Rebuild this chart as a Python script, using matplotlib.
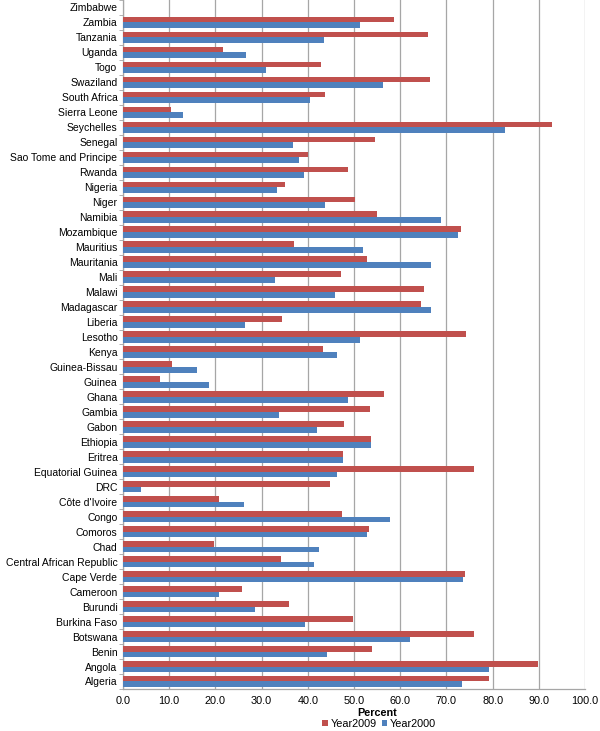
import matplotlib
matplotlib.use("Agg")
import matplotlib.pyplot as plt
import numpy as np

plt.rcParams['font.family'] = ['Liberation Sans', 'DejaVu Sans']

countries = ["Algeria", "Angola", "Benin", "Botswana", "Burkina Faso", "Burundi",
             "Cameroon", "Cape Verde", "Central African Republic", "Chad", "Comoros",
             "Congo", "Côte d'Ivoire", "DRC", "Equatorial Guinea", "Eritrea", "Ethiopia",
             "Gabon", "Gambia", "Ghana", "Guinea", "Guinea-Bissau", "Kenya", "Lesotho",
             "Liberia", "Madagascar", "Malawi", "Mali", "Mauritania", "Mauritius",
             "Mozambique", "Namibia", "Niger", "Nigeria", "Rwanda", "Sao Tome and Principe",
             "Senegal", "Seychelles", "Sierra Leone", "South Africa", "Swaziland", "Togo",
             "Uganda", "Tanzania", "Zambia", "Zimbabwe"]

year2009 = [79.3, 89.9, 53.8, 76.0, 49.7, 36.0,
            25.8, 74.1, 34.1, 19.6, 53.2,
            47.5, 20.8, 44.7, 76.0, 47.7, 53.6,
            47.9, 53.4, 56.6, 8.1, 10.5, 43.3, 74.3,
            34.5, 64.5, 65.2, 47.2, 52.8, 37.1,
            73.1, 55.0, 50.3, 35.0, 48.6, 40.0,
            54.5, 92.8, 10.4, 43.8, 66.5, 42.9,
            21.7, 66.1, 58.6, np.nan]

year2000 = [73.3, 79.2, 44.2, 62.2, 39.5, 28.5,
            20.8, 73.6, 41.4, 42.4, 52.8,
            57.7, 26.2, 4.0, 46.3, 47.6, 53.6,
            41.9, 33.7, 48.7, 18.6, 16.1, 46.3, 51.2,
            26.3, 66.6, 45.8, 32.9, 66.6, 52.0,
            72.5, 68.9, 43.8, 33.4, 39.1, 38.0,
            36.7, 82.7, 13.0, 40.4, 56.3, 31.0,
            26.7, 43.4, 51.3, np.nan]

xticks = np.arange(0, 101, 10)

red = "#C0504D"
blue = "#4F81BD"
grid = "#A6A6A6"

fig = plt.figure(figsize=(6.0, 7.31), dpi=100)
ax = fig.add_axes([0.205, 0.0575, 0.770, 0.9425])

y = np.arange(len(countries))
h = 0.38
ax.barh(y + h / 2, year2009, height=h, color=red, label="Year2009", zorder=3)
ax.barh(y - h / 2, year2000, height=h, color=blue, label="Year2000", zorder=3)

ax.set_xlim(0, 100)
ax.set_ylim(-0.5, len(countries) - 0.5)
ax.set_xticks(xticks)
ax.set_xticklabels([f"{v:.1f}" for v in xticks], fontsize=7.8)
ax.set_yticks(y)
ax.set_yticklabels(countries, fontsize=7.5)
ax.set_yticks(np.arange(-0.5, len(countries), 1), minor=True)
ax.tick_params(axis='y', which='major', length=0, pad=4)
ax.tick_params(axis='y', which='minor', length=3, color=grid)
ax.tick_params(axis='x', length=0, pad=5)
ax.xaxis.grid(True, color=grid, linewidth=0.9, zorder=0)
for s in ['top', 'right']:
    ax.spines[s].set_visible(False)
for s in ['left', 'bottom']:
    ax.spines[s].set_color(grid)
    ax.spines[s].set_linewidth(0.9)

fig.text(0.629, 1 - 713 / 731, "Percent", fontsize=7.8, fontweight='bold',
         ha='center', va='center')
leg = fig.legend(loc='center', bbox_to_anchor=(0.632, 1 - 724 / 731), ncol=2, frameon=False,
                 fontsize=7.8, handlelength=0.5, handleheight=0.5, handletextpad=0.25,
                 columnspacing=0.5, borderpad=0, borderaxespad=0)

fig.savefig("out.png", dpi=100)
